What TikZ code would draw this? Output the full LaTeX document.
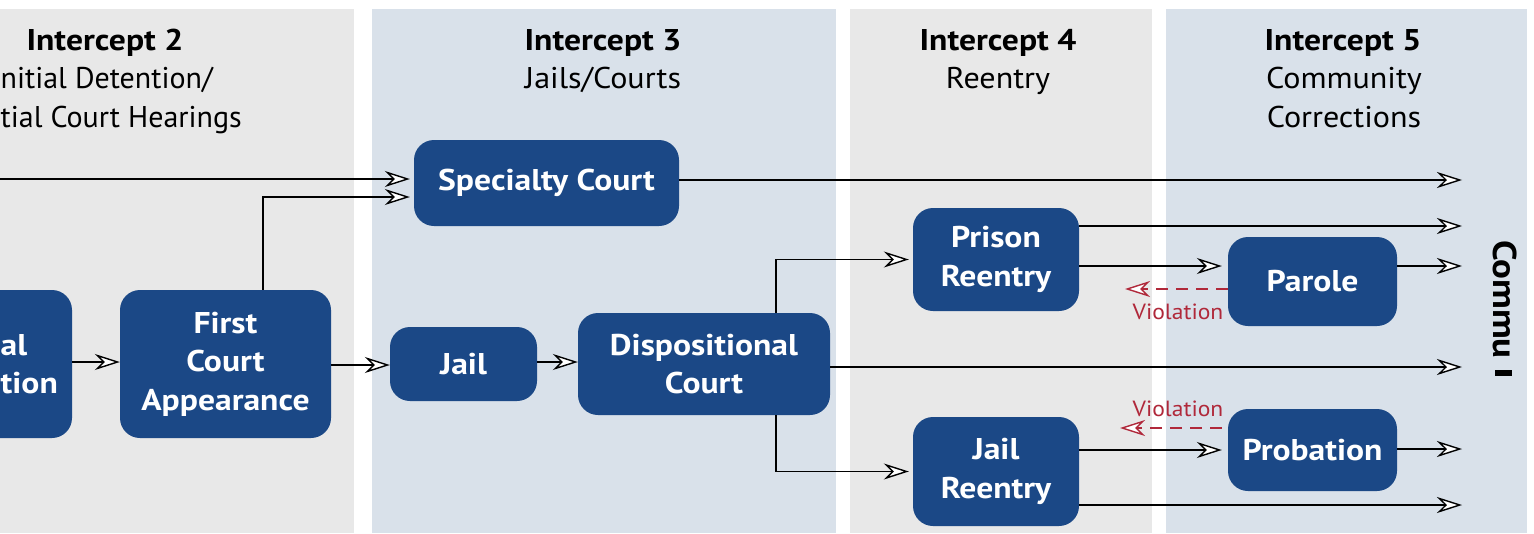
\documentclass[tikz,border=0pt]{standalone}
\usepackage{fontspec}
\setmainfont{PT Sans}[FakeStretch=1.07, BoldFeatures={FakeStretch=1.12}]
\newfontfamily\plainpt{PT Sans}
\usetikzlibrary{arrows.meta}
\definecolor{pgray}{HTML}{E8E8E8}
\definecolor{pblue}{HTML}{D9E1EA}
\definecolor{nblue}{HTML}{1B4886}
\definecolor{vred}{HTML}{B0283A}
\newcommand{\hdbold}{\fontsize{30}{36}\selectfont\bfseries}
\newcommand{\hdreg}{\fontsize{30}{36}\selectfont}
\newcommand{\boxfnt}{\fontsize{30}{38.5}\selectfont\bfseries}
\begin{document}
\begin{tikzpicture}[x=1pt,y=-1pt,
  box/.style={fill=nblue, rounded corners=20pt, text=white, font=\boxfnt, align=center, inner sep=0pt},
  hb/.style={anchor=base, inner sep=0pt, font=\hdbold},
  hr/.style={anchor=base, inner sep=0pt, font=\hdreg},
  tip/.style={-{Stealth[length=25pt,width=16pt,inset=8pt,fill=white,line width=1.4pt]}},
  arr/.style={line width=1.9pt, draw=black, tip},
  viol/.style={line width=1.9pt, draw=vred, dash pattern=on 12pt off 8pt, tip},
  vtext/.style={text=vred, font=\fontsize{22}{26}\selectfont, inner sep=0pt}]
\useasboundingbox (0,0) rectangle (1534,533);
\fill[white] (0,0) rectangle (1534,533);
% panels
\fill[pgray] (0,9) rectangle (354,533);
\fill[pblue] (372,9) rectangle (836,533);
\fill[pgray] (850,9) rectangle (1152,533);
\fill[pblue] (1166,9) rectangle (1527,533);
% headers
\node[hb] (h2a) at (105,50) {Intercept 2};
\node[hr, anchor=base west, font=\plainpt\fontsize{30}{36}\selectfont] (h2b) at (0.5,88) {nitial Detention/};
\node[hr, anchor=base west, font=\plainpt\fontsize{30}{36}\selectfont] (h2c) at (0.5,127) {tial Court Hearings};
\node[hb] (h3a) at (603,50) {Intercept 3};
\node[hr] (h3b) at (603,88) {Jails/Courts};
\node[hb] (h4a) at (998,50) {Intercept 4};
\node[hr] (h4b) at (998,88) {Reentry};
\node[hb] (h5a) at (1343,50) {Intercept 5};
\node[hr] (h5b) at (1344,88) {Community};
\node[hr] (h5c) at (1344,127) {Corrections};
% side label
\node[anchor=base west, rotate=-90, inner sep=0pt, font=\fontsize{33}{36}\selectfont\bfseries] (comm) at (1493,240) {Commu};
\fill[black] (1495,370) rectangle (1512,376);
% nodes
\node[box, minimum width=162pt, minimum height=148pt] (init) at (-9,364) {};
\node[anchor=west, align=left, inner sep=0pt, text=white, font=\boxfnt] (initT) at (0.5,364) {al\\tion};
\node[box, minimum width=211pt, minimum height=148pt] (fca) at (225.5,364) {First\\Court\\Appearance};
\node[box, minimum width=265pt, minimum height=86pt] (spec) at (546.5,183) {Specialty Court};
\node[box, minimum width=147pt, minimum height=74pt] (jail) at (463.5,364) {Jail};
\node[box, minimum width=252pt, minimum height=102pt] (disp) at (704,364) {Dispositional\\Court};
\node[box, minimum width=166pt, minimum height=103pt] (pri) at (996,259.5) {Prison\\Reentry};
\node[box, minimum width=166pt, minimum height=109pt] (jr) at (996,471.5) {Jail\\Reentry};
\node[box, minimum width=169pt, minimum height=89pt] (par) at (1312.5,281.5) {Parole};
\node[box, minimum width=169pt, minimum height=82pt] (prob) at (1312.5,450) {Probation};
% free ends
\coordinate (inL) at (0,179);
\coordinate (e1) at (1462,180);
\coordinate (e2) at (1462,226);
\coordinate (e3) at (1462,266);
\coordinate (e4) at (1462,367);
\coordinate (e5) at (1462,449);
\coordinate (e6) at (1462,505);
\coordinate (v1) at (1125,289);
\coordinate (v2) at (1120,428);
% connectors
\draw[arr] (inL) -- ([xshift=-4pt,yshift=4pt]spec.west);
\draw[arr] ([xshift=37.5pt]fca.north) |- ([xshift=-4pt,yshift=-14pt]spec.west);
\draw[arr] (spec.east |- e1) -- (e1);
\draw[arr] (init.east |- 0,362) -- (fca.west |- 0,362);
\draw[arr] (fca.east |- 0,365) -- (jail.west |- 0,365);
\draw[arr] (jail.east |- 0,362) -- (disp.west |- 0,362);
\draw[arr] (disp.east |- e4) -- (e4);
\draw[arr] ([xshift=72pt]disp.north) |- ([xshift=-4pt]pri.west);
\draw[arr] ([xshift=72pt]disp.south) |- ([xshift=-4pt]jr.west);
\draw[arr] (pri.east |- e2) -- (e2);
\draw[arr] (pri.east |- e3) -- ([xshift=-6pt]par.west |- e3);
\draw[arr] (par.east |- e3) -- (e3);
\draw[viol] (par.west |- v1) -- (v1);
\node[vtext] (vl1) at (1178,312) {Violation};
\draw[arr] (jr.east |- prob.west) -- ([xshift=-6pt]prob.west);
\draw[arr] (prob.east |- e5) -- (e5);
\draw[arr] (jr.east |- e6) -- (e6);
\draw[viol] ([xshift=-6pt]prob.west |- v2) -- (v2);
\node[vtext] (vl2) at (1178,409) {Violation};
\end{tikzpicture}
\end{document}
